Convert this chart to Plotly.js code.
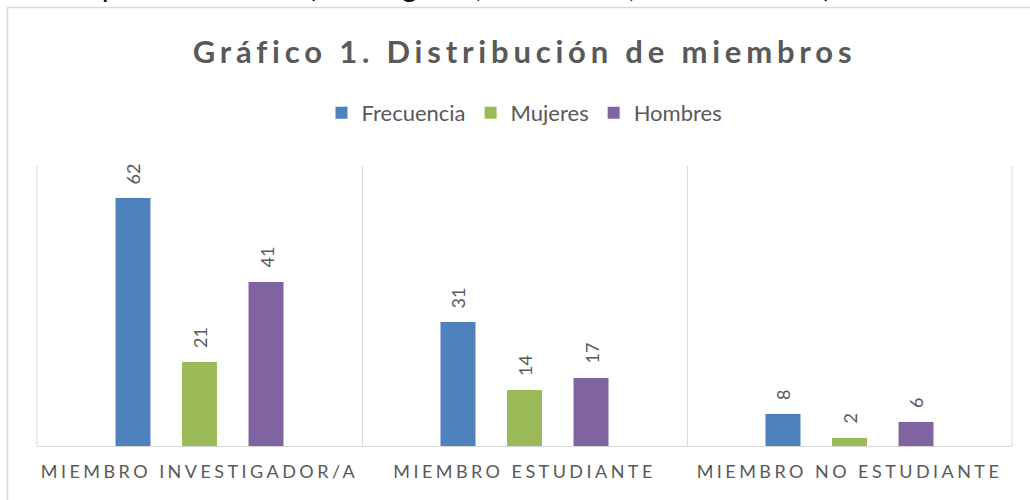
<!DOCTYPE html>
<html>
<head>
<meta charset="utf-8">
<script src="https://cdn.plot.ly/plotly-3.0.1.min.js"></script>
<style>
  html, body { margin: 0; padding: 0; background: #fff; }
  #chart { width: 1030px; height: 500px; }
  .gtitle { letter-spacing: 4.8px; }
  .xtick text { letter-spacing: 3.45px; }
</style>
</head>
<body>
<div id="chart"></div>
<script>
// ---- data ----
const categories = ["MIEMBRO INVESTIGADOR/A", "MIEMBRO ESTUDIANTE", "MIEMBRO NO ESTUDIANTE"];
const seriesNames = ["Frecuencia", "Mujeres", "Hombres"];
const frecuencia = [62, 31, 8];
const mujeres = [21, 14, 2];
const hombres = [41, 17, 6];
const chartTitle = "Gráfico 1. Distribución de miembros";
const cutText = "Tipo de miembro (investigador, estudiante, no académico)";

// ---- styling ----
const colors = ["#4F81BD", "#9BBB59", "#8064A2"];
const W = 1030, H = 500;
const M = {l: 37, r: 18, t: 166, b: 54};
const PW = W - M.l - M.r, PH = H - M.t - M.b;
const px2x = px => (px - M.l) / PW;
const px2y = py => (H - M.b - py) / PH;
const FONT = "Lato, 'Open Sans', sans-serif";
const GRAY = "#595959";
const bargap = 0.386;
const bargroupgap = 0.474;

const seriesValues = [frecuencia, mujeres, hombres];
const traces = seriesValues.map((vals, i) => ({
  type: "bar",
  name: seriesNames[i],
  x: categories,
  y: vals,
  marker: {color: colors[i]},
  hoverinfo: "skip"
}));

// data labels placed above each bar (rotated)
const slot = (1 - bargap) / seriesValues.length;
const annotations = [];
seriesValues.forEach((vals, i) => {
  vals.forEach((v, j) => {
    annotations.push({
      xref: "x", yref: "y",
      x: j + (i - (seriesValues.length - 1) / 2) * slot,
      y: v,
      text: String(v),
      showarrow: false,
      textangle: -90,
      xanchor: "center", yanchor: "bottom",
      yshift: 12,
      font: {family: FONT, size: 18, color: GRAY}
    });
  });
});
annotations.push({
  xref: "paper", yref: "paper",
  x: px2x(454), y: px2y(5),
  xanchor: "center", yanchor: "bottom",
  text: cutText, showarrow: false,
  font: {family: FONT, size: 30, color: "#111"}
});

const layout = {
  width: W, height: H,
  margin: M,
  paper_bgcolor: "rgba(0,0,0,0)",
  plot_bgcolor: "rgba(0,0,0,0)",
  barmode: "group",
  bargap: bargap,
  bargroupgap: bargroupgap,
  title: {
    text: "<b>" + chartTitle + "</b>",
    x: 0.5, xref: "paper", xanchor: "center",
    y: 1 - 52 / H, yanchor: "middle",
    font: {family: FONT, size: 31, color: GRAY}
  },
  showlegend: true,
  legend: {
    orientation: "h",
    x: 0.5, xanchor: "center",
    y: px2y(113), yanchor: "middle",
    font: {family: FONT, size: 22, color: GRAY},
    traceorder: "normal"
  },
  xaxis: {
    type: "category",
    tickson: "boundaries",
    showgrid: true, gridcolor: "#d9d9d9", gridwidth: 1,
    showline: true, linecolor: "#d9d9d9", linewidth: 1,
    ticks: "", zeroline: false,
    ticklabelstandoff: 9,
    tickfont: {family: FONT, size: 18, color: GRAY},
    fixedrange: true
  },
  yaxis: {
    range: [0, 70],
    visible: false,
    showgrid: false, zeroline: false,
    fixedrange: true
  },
  shapes: [
    {
      type: "rect", xref: "paper", yref: "paper",
      x0: px2x(7.5), x1: px2x(1045), y0: px2y(515), y1: px2y(7.5),
      line: {color: "#d9d9d9", width: 1.5},
      fillcolor: "rgba(0,0,0,0)", layer: "below"
    },
    {type: "line", xref: "paper", yref: "paper", x0: 0, x1: 0, y0: 0, y1: 1,
     line: {color: "#d9d9d9", width: 1}, layer: "below"},
    {type: "line", xref: "paper", yref: "paper", x0: 1, x1: 1, y0: 0, y1: 1,
     line: {color: "#d9d9d9", width: 1}, layer: "below"}
  ],
  annotations: annotations
};

Plotly.newPlot("chart", traces, layout, {displayModeBar: false, staticPlot: true});
</script>
</body>
</html>
